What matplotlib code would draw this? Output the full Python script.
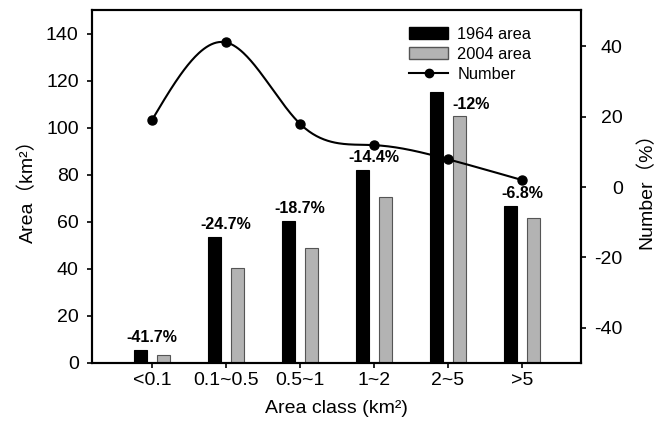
import numpy as np
import matplotlib
matplotlib.use("Agg")
import matplotlib.pyplot as plt
from matplotlib.patches import Patch
from matplotlib.lines import Line2D

plt.rcParams['font.family'] = ['Liberation Sans', 'Noto Sans CJK SC', 'DejaVu Sans']
plt.rcParams['axes.unicode_minus'] = False

# data
classes = ['<0.1', '0.1~0.5', '0.5~1', '1~2', '2~5', '>5']
area_1964 = [5.7, 53.6, 60.5, 82.2, 115.0, 66.7]
area_2004 = [3.4, 40.4, 49.0, 70.4, 104.8, 61.7]
number_pct = [19.0, 41.1, 18.0, 11.9, 7.9, 2.0]
change_labels = ['-41.7%', '-24.7%', '-18.7%', '-14.4%', '-12%', '-6.8%']


def natural_spline(x, y, n=300):
    # plain natural cubic spline, only used to draw the smooth curve
    x = np.asarray(x, float)
    y = np.asarray(y, float)
    k = len(x)
    h = np.diff(x)
    A = np.zeros((k, k))
    b = np.zeros(k)
    A[0, 0] = A[-1, -1] = 1
    for i in range(1, k - 1):
        A[i, i - 1] = h[i - 1]
        A[i, i] = 2 * (h[i - 1] + h[i])
        A[i, i + 1] = h[i]
        b[i] = 6 * ((y[i + 1] - y[i]) / h[i] - (y[i] - y[i - 1]) / h[i - 1])
    m = np.linalg.solve(A, b)
    xs = np.linspace(x[0], x[-1], n)
    idx = np.clip(np.searchsorted(x, xs) - 1, 0, k - 2)
    x0, x1 = x[idx], x[idx + 1]
    hh = x1 - x0
    t0, t1 = x1 - xs, xs - x0
    ys = (m[idx] * t0 ** 3 + m[idx + 1] * t1 ** 3) / (6 * hh) \
        + (y[idx] / hh - m[idx] * hh / 6) * t0 \
        + (y[idx + 1] / hh - m[idx + 1] * hh / 6) * t1
    return xs, ys


fig = plt.figure(figsize=(6.58, 4.25), dpi=100)
ax = fig.add_axes([0.1398, 0.1459, 0.7432, 0.8306])
ax2 = ax.twinx()

x = np.arange(len(classes))
w = 0.18
off = 0.155
ax.bar(x - off, area_1964, w, color='black', edgecolor='black', linewidth=0.8, zorder=2)
ax.bar(x + off, area_2004, w, color='#b3b3b3', edgecolor='#555555', linewidth=0.8, zorder=2)

for i, lab in enumerate(change_labels):
    if i == 4:
        # this one sits over the 2004 bar
        ax.text(x[i] + 0.31, area_2004[i] + 3.3, lab, ha='center', va='baseline',
                fontsize=11.5, fontweight='bold')
    else:
        ax.text(x[i], area_1964[i] + 3.3, lab, ha='center', va='baseline',
                fontsize=11.5, fontweight='bold')

xs, ys = natural_spline(x, number_pct)
ax2.plot(xs, ys, color='black', lw=1.5, zorder=3)
ax2.plot(x, number_pct, 'o', color='black', ms=6.5, zorder=4)

ax.set_xlim(-0.81, 5.8)
ax.set_ylim(0, 150)
ax2.set_ylim(-50, 50.3)
ax.set_yticks(np.arange(0, 141, 20))
ax2.set_yticks(np.arange(-40, 41, 20))
ax.set_xticks(x)
ax.set_xticklabels(classes)

for a in (ax, ax2):
    for s in a.spines.values():
        s.set_linewidth(1.5)
ax.tick_params(axis='y', direction='out', length=3.6, width=1.2, labelsize=14, pad=6)
ax.tick_params(axis='x', direction='out', length=3.6, width=1.2, labelsize=14, pad=3)
ax2.tick_params(axis='y', direction='out', length=3.6, width=1.2, labelsize=14, pad=26.5)
for t in ax2.get_yticklabels():
    t.set_horizontalalignment('right')

ax.set_ylabel('Area（km²）', fontsize=14, labelpad=6)
ax2.set_ylabel('Number（%）', fontsize=14, rotation=90, labelpad=10)
ax.set_xlabel('Area class (km²)', fontsize=14, labelpad=8)

handles = [Patch(facecolor='black', edgecolor='black'),
           Patch(facecolor='#b3b3b3', edgecolor='#555555'),
           Line2D([0], [0], color='black', lw=1.5, marker='o', ms=6)]
ax2.legend(handles, ['1964 area', '2004 area', 'Number'], loc='upper left',
           bbox_to_anchor=(0.628, 0.98), frameon=False, fontsize=11.8,
           handlelength=2.4, handleheight=0.75, labelspacing=0.3, handletextpad=0.55,
           borderaxespad=0.2)

fig.savefig('out.png', dpi=100)
